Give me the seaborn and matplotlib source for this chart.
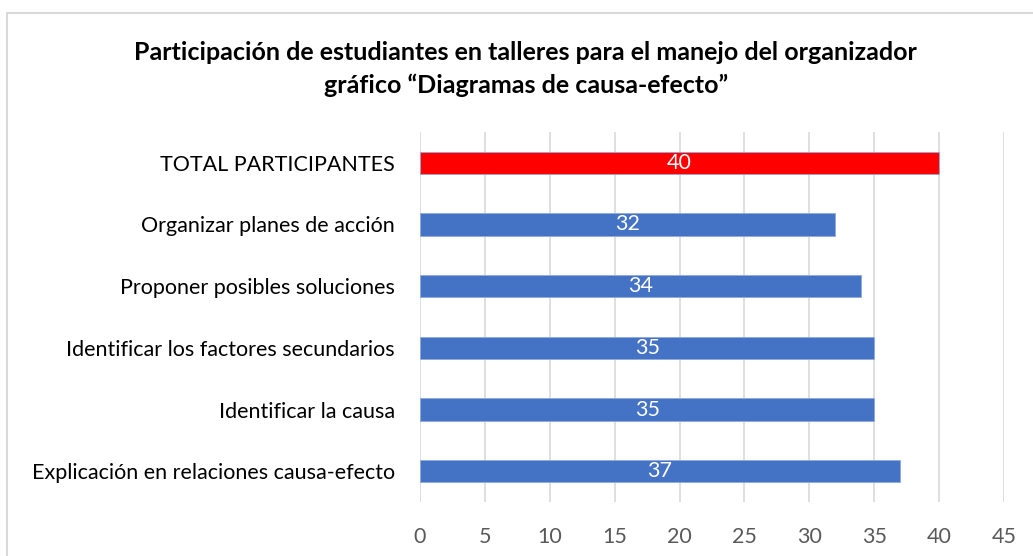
import numpy as np
import pandas as pd
import matplotlib
matplotlib.use('Agg')
import matplotlib.pyplot as plt
from matplotlib.patches import Rectangle
import seaborn as sns


actividades = [
    'TOTAL PARTICIPANTES',
    'Organizar planes de acción',
    'Proponer posibles soluciones',
    'Identificar los factores secundarios',
    'Identificar la causa',
    'Explicación en relaciones causa-efecto',
]
estudiantes = [40, 32, 34, 35, 35, 37]
grupo = ['total', 'taller', 'taller', 'taller', 'taller', 'taller']

COLOR_TOTAL = '#FF0000'
COLOR_TALLER = '#4472C4'
FONT = ['Lato', 'DejaVu Sans']

df = pd.DataFrame({'actividad': actividades, 'n': estudiantes, 'grupo': grupo})

sns.set_theme(style='white')
plt.rcParams['font.family'] = FONT

fig = plt.figure(figsize=(10.33, 5.56), dpi=100)
ax = fig.add_axes([0.4066, 0.0971, 0.5653, 0.6655])

sns.barplot(
    data=df, y='actividad', x='n', hue='grupo',
    palette={'total': COLOR_TOTAL, 'taller': COLOR_TALLER},
    dodge=False, width=0.36, legend=False, ax=ax,
    edgecolor='#8faadc', linewidth=0.6, saturation=1
)

# etiquetas centradas dentro de cada barra
for container in ax.containers:
    ax.bar_label(container, label_type='center', color='white', fontsize=15.5)

ax.set_xlim(0, 45)
ax.set_xticks(np.arange(0, 50, 5))
ax.set_ylim(len(actividades) - 0.5, -0.5)
ax.grid(axis='x', color='#d9d9d9', lw=1.2)
ax.set_axisbelow(True)
for s in ax.spines.values():
    s.set_visible(False)

ax.set_xlabel('')
ax.set_ylabel('')
ax.tick_params(axis='x', colors='#595959', labelsize=15.5, length=0, pad=18)
ax.tick_params(axis='y', labelcolor='black', labelsize=15.5, length=0, pad=18)

fig.text(0.509, 0.905, 'Participación de estudiantes en talleres para el manejo del organizador',
         ha='center', va='center', fontsize=18, fontweight='bold', color='black')
fig.text(0.509, 0.846, 'gráfico “Diagramas de causa-efecto”',
         ha='center', va='center', fontsize=18, fontweight='bold', color='black')

# marco del gráfico
fig.patches.append(Rectangle((7 / 1033, -0.1), 1.1, 1 - 13 / 556 + 0.1,
                             transform=fig.transFigure, fill=False,
                             edgecolor='#d9d9d9', lw=1.5))

fig.savefig('out.png', dpi=100)
